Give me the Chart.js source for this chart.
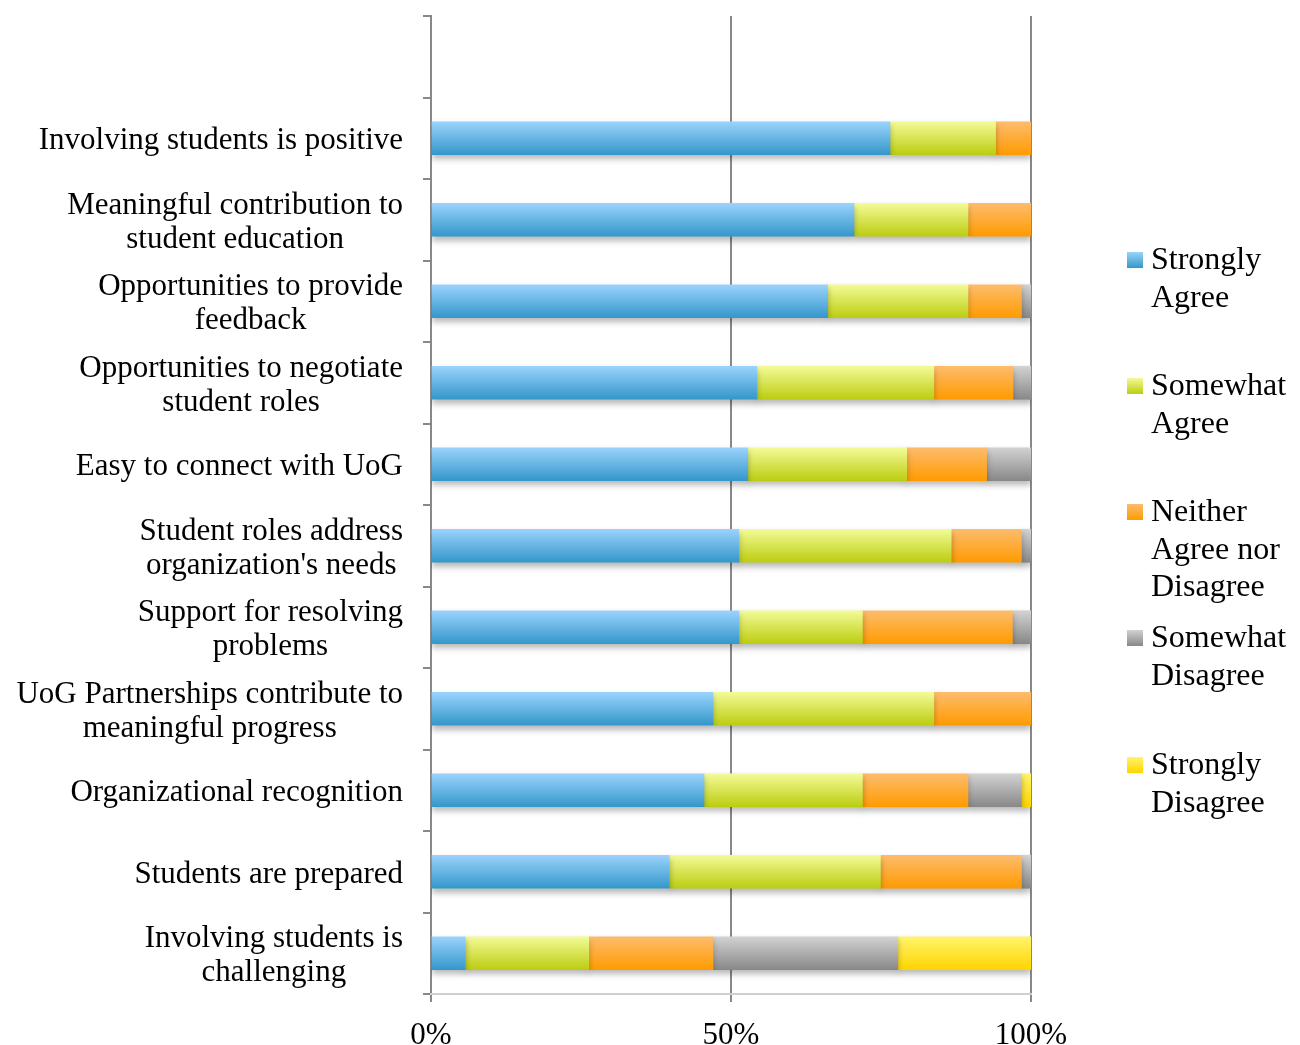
<!DOCTYPE html>
<html>
<head>
<meta charset="utf-8">
<script src="https://cdn.jsdelivr.net/npm/chart.js@4.4.1/dist/chart.umd.min.js"></script>
<style>
  html, body { margin: 0; padding: 0; background: #fff; }
  #wrap { position: relative; width: 1300px; height: 1045px; }
  #legend { position: absolute; left: 0; top: 0; font-family: 'Liberation Serif', serif; font-size: 32px; color: #000; }
  .item { position: absolute; left: 1127px; }
  .item .sw { position: absolute; left: 0; top: 12px; width: 16px; height: 16px; }
  .item .txt { position: absolute; left: 24px; top: 0; line-height: 37.5px; white-space: nowrap; }
</style>
</head>
<body>
<div id="wrap">
  <canvas id="chart"></canvas>
  <div id="legend"></div>
</div>
<script>
// categories, top to bottom (first slot is empty in the original)
const categories = [
    [],
    ['Involving students is positive'],
    ['Meaningful contribution to', 'student education'],
    ['Opportunities to provide', 'feedback'],
    ['Opportunities to negotiate', 'student roles'],
    ['Easy to connect with UoG'],
    ['Student roles address', "organization's needs"],
    ['Support for resolving', 'problems'],
    ['UoG Partnerships contribute to', 'meaningful progress'],
    ['Organizational recognition'],
    ['Students are prepared'],
    ['Involving students is', 'challenging']
];

// percentages
const stronglyAgree    = [null, 76.5, 70.5, 66.1, 54.3, 52.8, 51.3, 51.3, 47.0, 45.5, 39.7, 5.7];
const somewhatAgree    = [null, 17.6, 19.0, 23.4, 29.5, 26.5, 35.4, 20.6, 36.8, 26.4, 35.2, 20.6];
const neither          = [null, 5.9, 10.5, 8.9, 13.2, 13.3, 11.7, 25.0, 16.2, 17.6, 23.5, 20.7];
const somewhatDisagree = [null, null, null, 1.6, 3.1, 7.4, 1.6, 3.1, null, 8.9, 1.6, 30.8];
const stronglyDisagree = [null, null, null, null, null, null, null, null, null, 1.6, null, 22.2];

const seriesNames = [['Strongly', 'Agree'], ['Somewhat', 'Agree'], ['Neither', 'Agree nor', 'Disagree'], ['Somewhat', 'Disagree'], ['Strongly', 'Disagree']];
const xTicks = [0, 50, 100];

// gradient stops (top, bottom) per series
const fills = [
    ['#9ad3fd', '#3497ca'],
    ['#f3fb97', '#bccd10'],
    ['#fdbc6c', '#ff9b00'],
    ['#d2d2d2', '#888888'],
    ['#fff46c', '#ffd500']
];

const FONT = "31px 'Liberation Serif', serif";
const LINE_H = 34;
const BAR = 33;

/**
 * vertical gradient for one bar, built from its category position
 */
function barGradient(top, bottom) {
    return function (ctx) {
        const chart = ctx.chart;
        const y = chart.scales && chart.scales.y;
        if (ctx.type !== 'data' || !y) return bottom;
        const c = y.getPixelForValue(ctx.dataIndex);
        if (!isFinite(c)) return bottom;
        const g = chart.ctx.createLinearGradient(0, c - BAR / 2, 0, c + BAR / 2);
        g.addColorStop(0, top);
        g.addColorStop(1, bottom);
        return g;
    };
}

// soft drop shadow under the bars
const shadowPlugin = {
    id: 'barShadow',
    beforeDatasetsDraw(chart) {
        const ctx = chart.ctx;
        ctx.save();
        ctx.shadowColor = 'rgba(0,0,0,0.28)';
        ctx.shadowBlur = 6;
        ctx.shadowOffsetY = 4;
    },
    afterDatasetsDraw(chart) {
        chart.ctx.restore();
    }
};

// category labels: right aligned block, lines centred to each other
const labelPlugin = {
    id: 'catLabels',
    afterDraw(chart) {
        const ctx = chart.ctx;
        const y = chart.scales.y;
        const right = chart.chartArea.left - 28;
        ctx.save();
        ctx.font = FONT;
        ctx.fillStyle = '#000';
        ctx.textAlign = 'center';
        ctx.textBaseline = 'middle';
        categories.forEach((lines, i) => {
            if (!lines.length) return;
            const w = Math.max(...lines.map(l => ctx.measureText(l).width));
            const cx = right - w / 2;
            const c = y.getPixelForValue(i) + 3;
            lines.forEach((l, k) => {
                ctx.fillText(l, cx, c + (k - (lines.length - 1) / 2) * LINE_H);
            });
        });
        ctx.restore();
    }
};

const seriesData = [stronglyAgree, somewhatAgree, neither, somewhatDisagree, stronglyDisagree];

const chart = new Chart(document.getElementById('chart'), {
    type: 'bar',
    data: {
        labels: categories.map(l => l.join(' ')),
        datasets: seriesData.map((d, i) => ({
            label: seriesNames[i].join(' '),
            data: d,
            backgroundColor: barGradient(fills[i][0], fills[i][1]),
            borderWidth: 0,
            barThickness: BAR
        }))
    },
    options: {
        indexAxis: 'y',
        responsive: true,
        maintainAspectRatio: false,
        animation: false,
        layout: { padding: { top: 16, right: 269, left: 0, bottom: 0 } },
        plugins: {
            legend: { display: false },
            tooltip: { enabled: false }
        },
        scales: {
            y: {
                stacked: true,
                offset: true,
                afterFit(scale) { scale.width = 431; },
                ticks: { display: false },
                grid: { drawOnChartArea: false, drawTicks: true, tickLength: 8, color: '#888', lineWidth: 2, offset: true },
                border: { display: true, color: '#888', width: 2 }
            },
            x: {
                stacked: true,
                min: 0,
                max: 100,
                afterFit(scale) { scale.height = 51; },
                afterBuildTicks(scale) { scale.ticks = xTicks.map(v => ({ value: v })); },
                ticks: {
                    color: '#000',
                    padding: 15,
                    font: { family: "'Liberation Serif', serif", size: 31 },
                    callback: v => v + '%'
                },
                grid: { color: '#888', lineWidth: 2, drawTicks: true, tickLength: 8 },
                border: { display: true, color: '#cfcfcf', width: 2 }
            }
        }
    },
    plugins: [shadowPlugin, labelPlugin]
});

// legend, one block per series
const legendTops = [240, 366, 492, 618, 745];
const legend = document.getElementById('legend');
seriesNames.forEach((lines, i) => {
    const item = document.createElement('div');
    item.className = 'item';
    item.style.top = legendTops[i] + 'px';
    const sw = document.createElement('span');
    sw.className = 'sw';
    sw.style.background = 'linear-gradient(' + fills[i][0] + ',' + fills[i][1] + ')';
    const txt = document.createElement('div');
    txt.className = 'txt';
    txt.innerHTML = lines.join('<br>');
    item.appendChild(sw);
    item.appendChild(txt);
    legend.appendChild(item);
});
</script>
</body>
</html>
